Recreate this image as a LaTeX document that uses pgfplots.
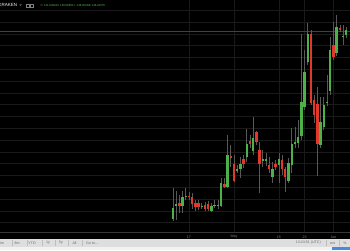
\documentclass[border=0pt]{standalone}
\usepackage{fontspec}
\setmainfont{Liberation Sans}
\usepackage{pgfplots}
\usepackage{pgfplotstable}
\pgfplotsset{compat=1.18}
\definecolor{cup}{RGB}{76,178,72}
\definecolor{cdn}{RGB}{226,56,44}
\definecolor{cwick}{RGB}{88,88,88}
\definecolor{cgrid}{RGB}{26,26,26}
\definecolor{cline}{RGB}{30,88,42}
\definecolor{clab}{RGB}{130,130,130}
\definecolor{cbar}{RGB}{222,222,222}
\definecolor{cbartext}{RGB}{105,105,105}
\definecolor{cval}{RGB}{90,200,90}
\definecolor{cblue}{RGB}{70,140,220}
\definecolor{caxis}{RGB}{55,55,55}
\definecolor{csep}{RGB}{190,190,190}
\definecolor{clight}{RGB}{242,242,242}

% d = day index (0 = 17 Apr); lo/hi = body, wlo/whi = wick
\pgfplotstableread{
d lo hi wlo whi
-5 31.0 42.3 29.5 62.5
-4 44.3 46.0 30 59
-2 44 53 37 59
-1 53.3 54.3 50 62
4 43 44 41 47
7 39.3 44 38 47
8 43.7 44.7 42 50
9 43.7 44.7 41 50
10 44 66.7 43 72
12 63.3 95 62 115
15 78.7 81 77 85
16 80.7 86 71.7 93.3
18 93.3 106 88.3 120.7
20 99.3 111.7 95 133.3
23 89 90.7 83.3 100
24 89.3 91 84 97
26 73.3 81 66.7 88.3
28 85 90.7 67 97
31 69 87.3 67 92
32 85.5 106 76.7 121.7
33 105.7 108.3 102 123
34 106.7 113.3 101.7 130
35 114 148.3 110 216
36 143 178 140 200
37 188.3 216 185 226.7
41 105 128 102 152.7
42 123.3 145 120 153.3
43 146.7 148.3 144 175
44 159 200 155 213.3
46 197 223 194 235
48 212.7 214 205 225
49 215 220 212 223
}\up

\pgfplotstableread{
d lo hi wlo whi
-3 44.3 47 37 55
0 52.7 54.3 50 58
1 46 53 41 57
2 43.5 46.7 39 50
3 43 46.7 40 50
5 41 45 39 48
6 40.7 46 39 49
11 63.3 66 62 72
13 92 94 83.3 105
14 69.3 86 68 95
17 86 91 82 95
19 106 109 102 115
21 107.7 117.7 105 119
22 86 100 56.7 108.3
25 80.7 85 77 93
27 83.3 86 80 90
29 80.7 90 75 95
30 73.3 80.7 58 83.3
38 147.3 216 145 220
39 135 150 126.7 155
40 106 145.7 74 163.3
45 193.3 205 190 228
47 220.5 221.7 218 225
}\down

\begin{document}
\begin{tikzpicture}
\useasboundingbox (0,0) rectangle (350pt,250pt);
\clip (0,0) rectangle (350pt,250pt);
\fill[black] (0,11pt) rectangle (350pt,250pt);
\fill[cbar] (0,0) rectangle (350pt,11pt);
\fill[clight] (0,0) rectangle (350pt,3pt);
\fill[cblue] (331.5pt,0) rectangle (350pt,3.3pt);

\begin{axis}[
  at={(0,18pt)}, anchor=south west,
  width=350pt, height=232pt, scale only axis,
  xmin=-58.88, xmax=50.16, ymin=18, ymax=250,
  axis line style={draw=none},
  tick style={draw=none},
  xtick={0,14,28,36,45},
  xticklabels={17,May,15,23,Jun},
  ytick={27.4,39.2,...,240},
  yticklabels={},
  grid=major,
  major grid style={draw=cgrid, line width=0.5pt},
  xticklabel style={anchor=center, yshift=-5pt, text=clab,
    font=\fontsize{3.6}{4}\selectfont},
]
\addplot[cline, line width=0.5pt, forget plot] coordinates {(-60,218.5) (60,218.5)};
% wicks
\addplot[draw=none, forget plot, error bars/.cd, y dir=plus, y explicit,
  error mark=none, error bar style={draw=cwick, line width=0.7pt}]
  table[x=d, y=wlo, y error plus expr=\thisrow{whi}-\thisrow{wlo}] {\up};
\addplot[draw=none, forget plot, error bars/.cd, y dir=plus, y explicit,
  error mark=none, error bar style={draw=cwick, line width=0.7pt}]
  table[x=d, y=wlo, y error plus expr=\thisrow{whi}-\thisrow{wlo}] {\down};
% bodies
\addplot[draw=none, forget plot, error bars/.cd, y dir=plus, y explicit,
  error mark=none, error bar style={draw=cup, line width=2.4pt, line cap=butt}]
  table[x=d, y=lo, y error plus expr=\thisrow{hi}-\thisrow{lo}] {\up};
\addplot[draw=none, forget plot, error bars/.cd, y dir=plus, y explicit,
  error mark=none, error bar style={draw=cdn, line width=2.4pt, line cap=butt}]
  table[x=d, y=lo, y error plus expr=\thisrow{hi}-\thisrow{lo}] {\down};
\end{axis}

\draw[caxis, line width=0.5pt] (0,18pt) -- (350pt,18pt);

% header
\node[anchor=west, inner sep=0, text=white!85!gray, font=\fontsize{4.5}{5}\selectfont] at (-1.5pt,244.8pt) {KRAKEN};
\fill[gray] (19.6pt,245.7pt) -- (21.8pt,245.7pt) -- (20.7pt,244.1pt) -- cycle;
\draw[gray, line width=0.3pt] (26.5pt,243.3pt) rectangle (29.5pt,246.3pt);
\draw[gray, line width=0.3pt] (30.5pt,243.3pt) rectangle (33.5pt,246.3pt);
\begin{scope}[every node/.style={anchor=west, inner sep=0, font=\fontsize{2.8}{3}\selectfont}]
\node[text=gray] at (40.3pt,244.8pt) {O};
\node[text=cval] at (43.8pt,244.8pt) {141.84091};
\node[text=gray] at (57pt,244.8pt) {H};
\node[text=cval] at (60pt,244.8pt) {146.58650};
\node[text=gray] at (73.8pt,244.8pt) {L};
\node[text=cval] at (76.5pt,244.8pt) {138.00002};
\node[text=gray] at (89pt,244.8pt) {C};
\node[text=cval] at (91.5pt,244.8pt) {146.22576};
\end{scope}

% toolbar
\begin{scope}[every node/.style={inner sep=0, text=cbartext, font=\fontsize{3.6}{4}\selectfont}]
\node at (1.5pt,7pt) {3m};
\node at (17pt,7pt) {6m};
\node at (32pt,7pt) {YTD};
\node at (48pt,7pt) {1y};
\node at (61pt,7pt) {5y};
\node at (74.5pt,7pt) {All};
\node at (92pt,7pt) {Go to...};
\node at (308.3pt,7pt) {13:24:51 (UTC)};
\node at (332.5pt,7pt) {ext};
\node at (345pt,7pt) {\%};
\end{scope}
\foreach \xx in {11.7,26.7,41.7,55,68.3,81.7,325.7,339}
  \draw[csep, line width=0.3pt] (\xx pt,4pt) -- (\xx pt,10pt);
\end{tikzpicture}
\end{document}
